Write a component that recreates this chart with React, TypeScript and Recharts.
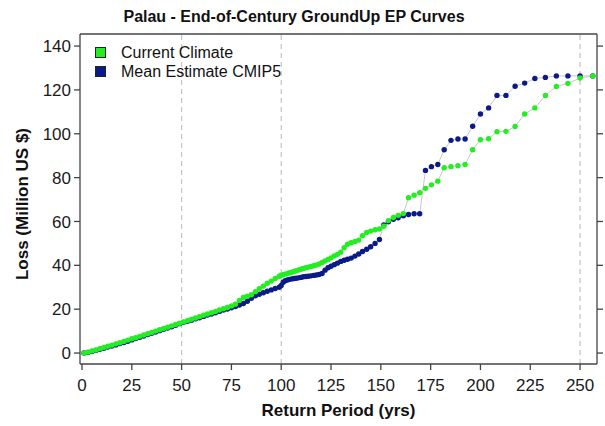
import React from 'react';
import { LineChart, Line, XAxis, YAxis, ReferenceLine } from 'recharts';

const returnPeriodLow = [1, 3, 5, 7, 9, 11, 13, 15, 17, 19, 21, 23, 25, 27, 29, 31, 33, 35, 37, 39, 41, 43, 45, 47, 49, 51, 53, 55, 57, 59, 61, 63, 65, 67, 69, 71, 73, 75, 77, 79, 81, 83, 85, 87, 89, 91, 93, 95, 97, 99];
const returnPeriodHigh = [100, 101.0, 102.0, 103.1, 104.2, 105.3, 106.4, 107.5, 108.7, 109.9, 111.1, 112.4, 113.6, 114.9, 116.3, 117.6, 119.0, 120.5, 122.0, 123.5, 125.0, 126.6, 128.2, 129.9, 131.6, 133.3, 135.1, 137.0, 138.9, 140.8, 142.9, 144.9, 147.1, 149.3, 151.5, 153.8, 156.3, 158.7, 161.3, 163.9, 166.7, 169.5, 172.4, 175.4, 178.6, 181.8, 185.2, 188.7, 192.3, 196.1, 200.0, 204.1, 208.3, 212.8, 217.4, 222.2, 227.3, 232.6, 238.1, 243.9, 250.0, 256.4];

const currentClimateLow = [0.0, 0.4, 0.9, 1.4, 2.0, 2.5, 3.1, 3.6, 4.2, 4.7, 5.3, 5.9, 6.5, 7.0, 7.6, 8.2, 8.8, 9.4, 10.0, 10.6, 11.2, 11.8, 12.4, 13.0, 13.6, 14.2, 14.8, 15.4, 16.0, 16.6, 17.2, 17.8, 18.4, 19.0, 19.6, 20.2, 20.8, 21.5, 22.3, 24.0, 25.3, 25.9, 26.6, 28.0, 29.3, 30.5, 31.8, 32.8, 34.0, 35.0];
const currentClimateHigh = [35.5, 35.7, 36.0, 36.3, 36.6, 36.9, 37.2, 37.5, 37.9, 38.2, 38.6, 38.9, 39.2, 39.5, 39.8, 40.1, 40.6, 41.3, 42.0, 42.7, 43.4, 44.3, 45.0, 46.0, 48.0, 49.6, 50.3, 50.9, 51.5, 53.5, 55.0, 55.6, 56.2, 56.6, 57.8, 60.4, 61.8, 62.8, 63.6, 70.8, 72.0, 73.1, 75.1, 76.7, 78.4, 84.5, 85.0, 85.4, 86.0, 92.7, 97.3, 97.7, 100.9, 101.1, 103.3, 109.0, 111.8, 117.5, 121.6, 123.0, 125.4, 126.4];

const meanCmip5Low = [0.0, 0.3, 0.7, 1.2, 1.7, 2.2, 2.7, 3.2, 3.7, 4.3, 4.8, 5.4, 6.0, 6.6, 7.2, 7.8, 8.4, 9.0, 9.6, 10.2, 10.8, 11.4, 12.0, 12.7, 13.4, 14.0, 14.5, 15.0, 15.6, 16.1, 16.7, 17.3, 17.8, 18.4, 19.0, 19.6, 20.1, 20.6, 21.2, 21.9, 22.6, 23.6, 25.0, 26.1, 26.8, 27.5, 28.2, 28.8, 29.4, 30.0];
const meanCmip5High = [30.8, 32.3, 33.0, 33.3, 33.6, 33.8, 34.0, 34.1, 34.3, 34.5, 34.8, 34.9, 35.0, 35.2, 35.4, 35.6, 35.8, 36.3, 37.8, 38.9, 39.6, 40.3, 41.0, 41.8, 42.3, 42.8, 43.3, 44.2, 45.2, 46.3, 47.3, 48.5, 50.0, 51.8, 58.4, 59.9, 61.0, 61.7, 62.6, 63.2, 63.5, 63.5, 83.3, 85.0, 86.0, 92.7, 97.0, 97.6, 97.6, 103.4, 109.0, 111.8, 117.5, 117.5, 121.7, 123.1, 125.2, 125.7, 126.4, 126.4, 126.4, 126.4];

const xTicks = [0, 25, 50, 75, 100, 125, 150, 175, 200, 225, 250];
const yTicks = [0, 20, 40, 60, 80, 100, 120, 140];
const gridLinesX = [50, 100, 250];

const seriesNames = ['Current Climate', 'Mean Estimate CMIP5'];
const seriesColors = ['#22ee22', '#0a1a86'];

const returnPeriods = [...returnPeriodLow, ...returnPeriodHigh];
const currentClimate = [...currentClimateLow, ...currentClimateHigh];
const meanCmip5 = [...meanCmip5Low, ...meanCmip5High];

const greenData = returnPeriods.map((x, i) => ({ x, y: currentClimate[i] }));
const blueData = returnPeriods.map((x, i) => ({ x, y: meanCmip5[i] }));

const FONT = '"Liberation Sans", Arial, sans-serif';
const AXIS = '#444';

const LegendBox = () => (
  <div style={{ position: 'absolute', left: 95, top: 43, fontFamily: FONT, fontSize: 16, color: '#111', lineHeight: '19px' }}>
    {seriesNames.map((n, i) => (
      <div key={n} style={{ display: 'flex', alignItems: 'center', height: 19 }}>
        <span
          style={{
            display: 'inline-block',
            width: 9,
            height: 9,
            background: seriesColors[i],
            border: '1px solid #222',
            marginRight: 15,
          }}
        />
        <span>{n}</span>
      </div>
    ))}
  </div>
);

export default function App() {
  return (
    <div style={{ position: 'absolute', left: 0, top: 0, width: 605, height: 426, background: '#fff' }}>
      <LineChart width={605} height={426} data={greenData} margin={{ top: 24, right: 0, bottom: 0, left: 0 }}>
        <XAxis
          xAxisId="b"
          type="number"
          dataKey="x"
          domain={[-1, 258.5]}
          ticks={xTicks}
          allowDataOverflow
          height={62}
          tickSize={6}
          tickMargin={9}
          stroke={AXIS}
          strokeWidth={1.3}
          tick={{ fontSize: 17, fill: '#1a1a1a', fontFamily: FONT }}
        />
        <XAxis
          xAxisId="t"
          orientation="top"
          type="number"
          domain={[-1, 258.5]}
          allowDataOverflow
          height={10}
          tickLine={false}
          tickFormatter={() => ''}
          stroke={AXIS}
          strokeWidth={1.3}
        />
        <YAxis
          yAxisId="l"
          type="number"
          domain={[-5, 145.5]}
          ticks={yTicks}
          allowDataOverflow
          width={80}
          tickSize={6}
          tickMargin={3}
          stroke={AXIS}
          strokeWidth={1.3}
          tick={{ fontSize: 17, fill: '#1a1a1a', fontFamily: FONT }}
        />
        <YAxis
          yAxisId="r"
          orientation="right"
          type="number"
          domain={[-5, 145.5]}
          ticks={yTicks}
          allowDataOverflow
          width={8}
          tickSize={6}
          tickFormatter={() => ''}
          stroke={AXIS}
          strokeWidth={1.3}
        />
        {gridLinesX.map((g) => (
          <ReferenceLine key={g} x={g} xAxisId="b" yAxisId="l" stroke="#c4c4c4" strokeWidth={1.2} strokeDasharray="5 4" />
        ))}
        <Line
          xAxisId="b"
          yAxisId="l"
          data={blueData}
          dataKey="y"
          name={seriesNames[1]}
          stroke="#c8c8c8"
          strokeWidth={1}
          dot={{ r: 2.7, fill: seriesColors[1], stroke: 'none' }}
          isAnimationActive={false}
        />
        <Line
          xAxisId="b"
          yAxisId="l"
          data={greenData}
          dataKey="y"
          name={seriesNames[0]}
          stroke="#c8c8c8"
          strokeWidth={1}
          dot={{ r: 2.7, fill: seriesColors[0], stroke: 'none' }}
          isAnimationActive={false}
        />
      </LineChart>
      <LegendBox />
      <svg width={605} height={426} style={{ position: 'absolute', left: 0, top: 0, pointerEvents: 'none' }}>
        <text x={294} y={22} textAnchor="middle" fontFamily={FONT} fontWeight="bold" fontSize={16} fill="#111">
          Palau - End-of-Century GroundUp EP Curves
        </text>
        <text x={338.5} y={416} textAnchor="middle" fontFamily={FONT} fontWeight="bold" fontSize={17} fill="#111">
          Return Period (yrs)
        </text>
        <text
          x={0}
          y={0}
          transform="translate(28 204) rotate(-90)"
          textAnchor="middle"
          fontFamily={FONT}
          fontWeight="bold"
          fontSize={17}
          fill="#111"
        >
          Loss (Million US $)
        </text>
      </svg>
    </div>
  );
}
